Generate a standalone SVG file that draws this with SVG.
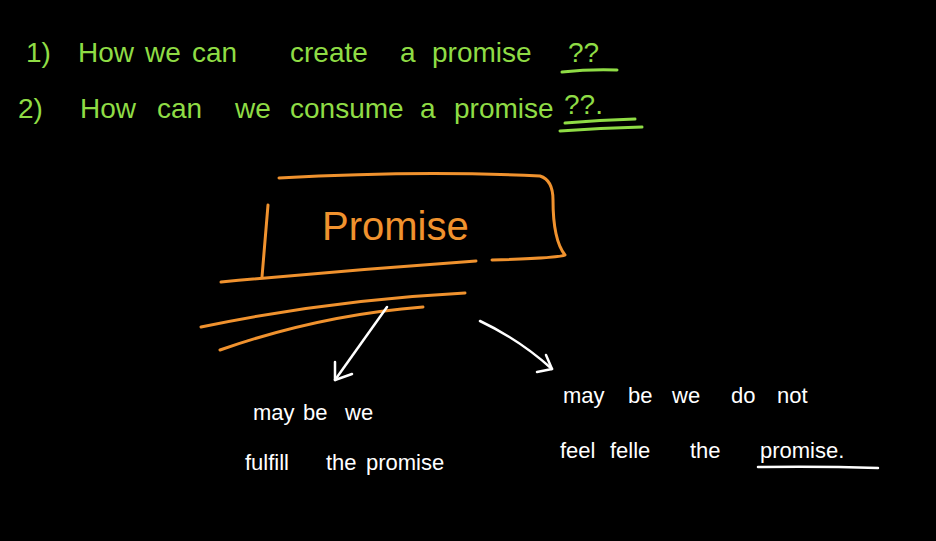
<svg xmlns="http://www.w3.org/2000/svg" width="936" height="541" viewBox="0 0 936 541">
<style>
.g{fill:#8fdc45;font-family:"Liberation Sans",Arial,sans-serif;font-size:28px}
.gl{stroke:#8fdc45;stroke-width:3;fill:none;stroke-linecap:round}
.o{stroke:#f0922e;stroke-width:3;fill:none;stroke-linecap:round;stroke-linejoin:round}
.ot{fill:#f0922e;font-family:"Liberation Sans",Arial,sans-serif;font-size:40px}
.w{fill:#ffffff;font-family:"Liberation Sans",Arial,sans-serif;font-size:22px}
.wl{stroke:#ffffff;stroke-width:2.5;fill:none;stroke-linecap:round;stroke-linejoin:round}
</style>
<rect width="936" height="541" fill="#000"/>
<g id="q1">
<text class="g" y="62"><tspan x="26">1)</tspan><tspan x="78">How</tspan><tspan x="145">we</tspan><tspan x="192">can</tspan><tspan x="290">create</tspan><tspan x="400">a</tspan><tspan x="432">promise</tspan><tspan x="568">??</tspan></text>
<path class="gl" d="M562 72 Q590 69 617 70"/>
</g>
<g id="q2">
<text class="g" y="118"><tspan x="18">2)</tspan><tspan x="80">How</tspan><tspan x="157">can</tspan><tspan x="235">we</tspan><tspan x="290">consume</tspan><tspan x="420">a</tspan><tspan x="454">promise</tspan><tspan x="564" y="114">??.</tspan></text>
<path class="gl" d="M565 123 Q600 120 635 119"/>
<path class="gl" d="M560 131 Q600 128 642 127"/>
</g>
<g id="promise">
<path class="o" d="M279 178 Q420 170 540 176 Q553 180 553 200 Q553 240 565 255 Q560 258 492 260"/>
<path class="o" d="M268 205 L262 277"/>
<path class="o" d="M221 282 Q350 270 476 261"/>
<text class="ot" x="322" y="240">Promise</text>
<path class="o" d="M201 327 Q330 300 465 293"/>
<path class="o" d="M220 350 Q320 315 423 307"/>
</g>
<g id="connectors">
<path class="wl" d="M387 307 L335 380"/>
<path class="wl" d="M335 362 L335 380 L352 374"/>
<path class="wl" d="M480 321 Q520 340 552 369"/>
<path class="wl" d="M537 372 L552 369 L546 355"/>
</g>
<g id="left">
<text class="w" y="420"><tspan x="253">may</tspan><tspan x="303">be</tspan><tspan x="345">we</tspan></text>
<text class="w" y="470"><tspan x="245">fulfill</tspan><tspan x="326">the</tspan><tspan x="366">promise</tspan></text>
</g>
<g id="right">
<text class="w" y="403"><tspan x="563">may</tspan><tspan x="628">be</tspan><tspan x="672">we</tspan><tspan x="731">do</tspan><tspan x="777">not</tspan></text>
<text class="w" y="458"><tspan x="560">feel</tspan><tspan x="610">felle</tspan><tspan x="690">the</tspan><tspan x="760">promise.</tspan></text>
<path class="wl" d="M758 467 Q820 466 878 468"/>
</g>
</svg>
